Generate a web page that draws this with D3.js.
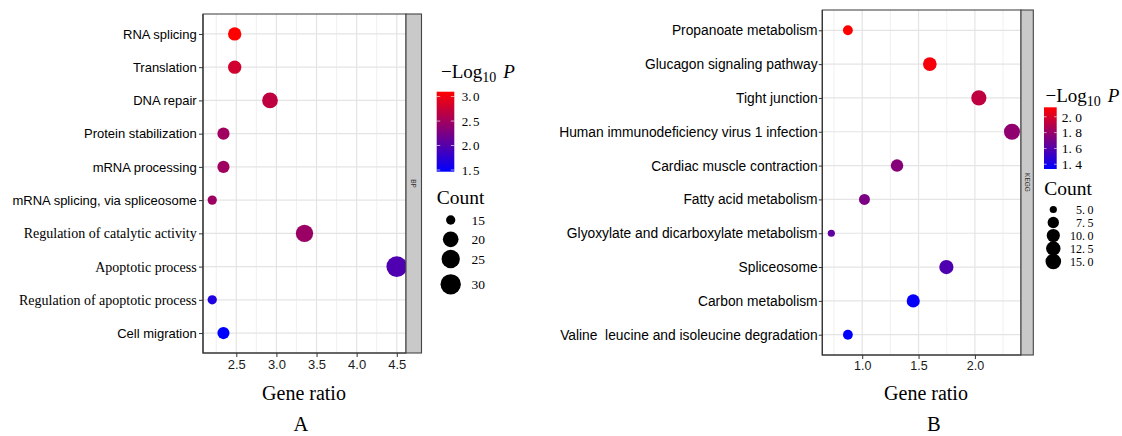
<!DOCTYPE html>
<html>
<head>
<meta charset="utf-8">
<script src="https://cdn.jsdelivr.net/npm/d3@7"></script>
<style>
  html, body { margin: 0; padding: 0; background: #fff; }
  svg { display: block; }
</style>
</head>
<body>
<svg id="chart" width="1122" height="436"></svg>
<script>
// ---- Panel A: GO biological process enrichment ----
const bpTerms = [
  "RNA splicing", "Translation", "DNA repair", "Protein stabilization",
  "mRNA processing", "mRNA splicing, via spliceosome",
  "Regulation of catalytic activity", "Apoptotic process",
  "Regulation of apoptotic process", "Cell migration"
];
const bpRatio = [2.48, 2.48, 2.92, 2.34, 2.34, 2.20, 3.35, 4.50, 2.20, 2.34];
const bpCount = [17, 17, 20, 16, 16, 15, 23, 31, 15, 16];
const bpLogP  = [3.10, 2.80, 2.69, 2.49, 2.49, 2.48, 2.46, 1.97, 1.66, 1.465];
const bpSerifTerms = ["Regulation of catalytic activity", "Apoptotic process", "Regulation of apoptotic process"];
const bpXTicks = [2.5, 3.0, 3.5, 4.0, 4.5];
const bpXMinor = [2.25, 2.75, 3.25, 3.75, 4.25];
const bpColorTicks = [3.0, 2.5, 2.0, 1.5];
const bpSizeBreaks = [15, 20, 25, 30];

// ---- Panel B: KEGG pathway enrichment ----
const keggTerms = [
  "Propanoate metabolism", "Glucagon signaling pathway", "Tight junction",
  "Human immunodeficiency virus 1 infection", "Cardiac muscle contraction",
  "Fatty acid metabolism", "Glyoxylate and dicarboxylate metabolism",
  "Spliceosome", "Carbon metabolism", "Valine  leucine and isoleucine degradation"
];
const keggRatio = [0.873, 1.600, 2.035, 2.329, 1.309, 1.020, 0.726, 1.747, 1.453, 0.873];
const keggCount = [6, 11, 14, 16, 9, 7, 5, 12, 10, 6];
const keggLogP  = [2.12, 2.09, 1.92, 1.78, 1.75, 1.72, 1.63, 1.58, 1.36, 1.34];
const keggXTicks = [1.0, 1.5, 2.0];
const keggXMinor = [0.75, 1.25, 1.75, 2.25];
const keggColorTicks = [2.0, 1.8, 1.6, 1.4];
const keggSizeBreaks = [5.0, 7.5, 10.0, 12.5, 15.0];

const SANS = "'Liberation Sans', Arial, sans-serif";
const SERIF = "'Liberation Serif', 'Times New Roman', serif";

const svg = d3.select("#chart");

const panels = [
  {
    id: "A",
    data: { terms: bpTerms, ratio: bpRatio, count: bpCount, logP: bpLogP,
            serifTerms: bpSerifTerms, xTicks: bpXTicks, xMinor: bpXMinor,
            colorTicks: bpColorTicks, sizeBreaks: bpSizeBreaks, sizeFmt: d3.format("d") },
    layout: {
      left: 203, right: 406, top: 14, bottom: 353, stripW: 15.5, strip: "BP",
      yFont: 13, yTick: 4, yPad: 2.3, xFont: 13,
      xTitleX: 304, letterX: 301,
      rMin: 4.65, rMax: 10.35,
      legTitleX: 441, legTitleY: 78,
      barX: 436.7, barTop: 91.7, barH: 80, barW: 17.6, barLabelX: 461.7, barFont: 13, barGap: 1.5,
      cntTitleX: 436.7, cntTitleY: 204, cntDotX: 450.7,
      cntYs: [220, 239.3, 259, 284.3], cntLabelX: 471.5, cntAnchor: "start", cntFont: 13.5, cntGap: 0
    }
  },
  {
    id: "B",
    data: { terms: keggTerms, ratio: keggRatio, count: keggCount, logP: keggLogP,
            serifTerms: [], xTicks: keggXTicks, xMinor: keggXMinor,
            colorTicks: keggColorTicks, sizeBreaks: keggSizeBreaks, sizeFmt: d3.format(".1f") },
    layout: {
      left: 822.3, right: 1021, top: 10, bottom: 355, stripW: 12.3, strip: "KEGG",
      yFont: 13.8, yTick: 3.5, yPad: 1.2, xFont: 12.5,
      xTitleX: 926, letterX: 933.8,
      rMin: 3.6, rMax: 8.0,
      legTitleX: 1045.5, legTitleY: 101.7,
      barX: 1044, barTop: 107.3, barH: 61.7, barW: 12.7, barLabelX: 1061.7, barFont: 13.5, barGap: 3.5,
      cntTitleX: 1044.3, cntTitleY: 195, cntDotX: 1053.3,
      cntYs: [209.5, 222.5, 235.5, 248.5, 261.5], cntLabelX: 1093.5, cntAnchor: "end", cntFont: 12, cntGap: 2.5
    }
  }
];

function drawPanel(p) {
  const d = p.data, L = p.layout;
  const g = svg.append("g").attr("class", "panel-" + p.id);

  // x domain padded by 5% of the data range on each side
  const [lo, hi] = d3.extent(d.ratio);
  const pad = (hi - lo) * 0.05;
  const x = d3.scaleLinear().domain([lo - pad, hi + pad]).range([L.left, L.right]);
  const y = d3.scalePoint().domain(d.terms).range([L.top, L.bottom]).padding(0.6);
  const color = d3.scaleLinear().domain(d3.extent(d.logP))
    .range(["#0000ff", "#ff0000"]).interpolate(d3.interpolateRgb).clamp(true);
  const [cMin, cMax] = d3.extent(d.count);
  const tSize = d3.scaleLinear().domain([cMin, cMax]).range([0, 1]).clamp(true);
  const radius = v => L.rMin + (L.rMax - L.rMin) * Math.sqrt(tSize(v));

  const clipId = "clip-" + p.id;
  g.append("clipPath").attr("id", clipId)
    .append("rect").attr("x", L.left).attr("y", L.top)
    .attr("width", L.right - L.left).attr("height", L.bottom - L.top);

  // background grid
  const grid = g.append("g");
  grid.selectAll("line.minor").data(d.xMinor.filter(v => x(v) > L.left && x(v) < L.right)).join("line")
    .attr("x1", v => x(v)).attr("x2", v => x(v)).attr("y1", L.top).attr("y2", L.bottom)
    .attr("stroke", "#eeeeee").attr("stroke-width", 0.9);
  grid.selectAll("line.vmajor").data(d.xTicks).join("line")
    .attr("x1", v => x(v)).attr("x2", v => x(v)).attr("y1", L.top).attr("y2", L.bottom)
    .attr("stroke", "#e4e4e4").attr("stroke-width", 1.2);
  grid.selectAll("line.hmajor").data(d.terms).join("line")
    .attr("x1", L.left).attr("x2", L.right).attr("y1", t => y(t)).attr("y2", t => y(t))
    .attr("stroke", "#e4e4e4").attr("stroke-width", 1.2);

  // points
  const rows = d.terms.map((t, i) => ({ term: t, ratio: d.ratio[i], count: d.count[i], logP: d.logP[i] }));
  g.append("g").attr("clip-path", `url(#${clipId})`)
    .selectAll("circle").data(rows).join("circle")
    .attr("cx", r => x(r.ratio)).attr("cy", r => y(r.term))
    .attr("r", r => radius(r.count))
    .attr("fill", r => color(r.logP));

  // panel border
  g.append("rect").attr("x", L.left).attr("y", L.top)
    .attr("width", L.right - L.left).attr("height", L.bottom - L.top)
    .attr("fill", "none").attr("stroke", "#4a4a4a").attr("stroke-width", 1.1);
  g.append("path")
    .attr("d", `M${L.left},${L.top}V${L.bottom}H${L.right}`)
    .attr("fill", "none").attr("stroke", "#333").attr("stroke-width", 1.2);

  // facet strip on the right
  g.append("rect").attr("x", L.right).attr("y", L.top)
    .attr("width", L.stripW).attr("height", L.bottom - L.top)
    .attr("fill", "#c9c9c9").attr("stroke", "#444").attr("stroke-width", 1.1);
  g.append("text")
    .attr("transform", `translate(${L.right + L.stripW / 2},${(L.top + L.bottom) / 2}) rotate(90)`)
    .attr("text-anchor", "middle").attr("dy", "0.35em")
    .attr("font-family", SANS).attr("font-size", 6.5).attr("fill", "#333")
    .text(L.strip);

  // y axis
  const yAxis = g.append("g").attr("transform", `translate(${L.left},0)`)
    .call(d3.axisLeft(y).tickSize(L.yTick).tickPadding(L.yPad));
  yAxis.select(".domain").remove();
  yAxis.selectAll(".tick line").attr("stroke", "#333");
  yAxis.selectAll(".tick text")
    .attr("fill", "#000")
    .attr("font-family", t => d.serifTerms.includes(t) ? SERIF : SANS)
    .attr("font-size", t => d.serifTerms.includes(t) ? L.yFont + 1 : L.yFont)
    .style("white-space", "pre");

  // x axis
  const xAxis = g.append("g").attr("transform", `translate(0,${L.bottom})`)
    .call(d3.axisBottom(x).tickValues(d.xTicks).tickFormat(d3.format(".1f")).tickSize(4).tickPadding(2.5));
  xAxis.select(".domain").remove();
  xAxis.selectAll(".tick line").attr("stroke", "#333");
  xAxis.selectAll(".tick text").attr("fill", "#1a1a1a")
    .attr("font-family", SANS).attr("font-size", L.xFont);

  // axis title and panel letter
  g.append("text").attr("x", L.xTitleX).attr("y", 400).attr("text-anchor", "middle")
    .attr("font-family", SERIF).attr("font-size", 20).attr("fill", "#000").text("Gene ratio");
  g.append("text").attr("x", L.letterX).attr("y", 431).attr("text-anchor", "middle")
    .attr("font-family", SERIF).attr("font-size", 20.5).attr("fill", "#000").text(p.id);

  // colour legend title: −Log10 P
  const tt = g.append("text").attr("x", L.legTitleX).attr("y", L.legTitleY)
    .attr("font-family", SERIF).attr("font-size", 19).attr("fill", "#000");
  tt.append("tspan").text("\u2212Log");
  tt.append("tspan").attr("font-size", 14).attr("dy", 4).text("10");
  tt.append("tspan").attr("dy", -4).attr("dx", 7).attr("font-style", "italic").text("P");

  // colour bar
  const gradId = "grad-" + p.id;
  const cDom = color.domain();
  const grad = g.append("linearGradient").attr("id", gradId)
    .attr("x1", 0).attr("x2", 0).attr("y1", 1).attr("y2", 0);
  grad.selectAll("stop").data(d3.range(0, 1.0001, 0.1)).join("stop")
    .attr("offset", s => s)
    .attr("stop-color", s => color(cDom[0] + s * (cDom[1] - cDom[0])));
  g.append("rect").attr("x", L.barX).attr("y", L.barTop)
    .attr("width", L.barW).attr("height", L.barH).attr("fill", `url(#${gradId})`);
  const cy = d3.scaleLinear().domain(cDom).range([L.barTop + L.barH, L.barTop]);
  const tickLen = L.barW / 5;
  const cb = g.append("g");
  cb.selectAll("line.l").data(d.colorTicks).join("line")
    .attr("x1", L.barX).attr("x2", L.barX + tickLen)
    .attr("y1", v => cy(v)).attr("y2", v => cy(v))
    .attr("stroke", "#fff").attr("stroke-width", 0.8).attr("opacity", 0.8);
  cb.selectAll("line.r").data(d.colorTicks).join("line")
    .attr("x1", L.barX + L.barW - tickLen).attr("x2", L.barX + L.barW)
    .attr("y1", v => cy(v)).attr("y2", v => cy(v))
    .attr("stroke", "#fff").attr("stroke-width", 0.8).attr("opacity", 0.8);
  const fmt1 = d3.format(".1f");
  cb.selectAll("text").data(d.colorTicks).join("text")
    .attr("x", L.barLabelX).attr("y", v => cy(v)).attr("dy", "0.35em")
    .attr("font-family", SERIF).attr("font-size", L.barFont).attr("fill", "#000")
    .each(function (v) {
      const parts = fmt1(v).split(".");
      const t = d3.select(this);
      t.append("tspan").text(parts[0] + ".");
      t.append("tspan").attr("dx", L.barGap).text(parts[1]);
    });

  // size legend
  g.append("text").attr("x", L.cntTitleX).attr("y", L.cntTitleY)
    .attr("font-family", SERIF).attr("font-size", 19.5).attr("fill", "#000").text("Count");
  const keys = g.append("g");
  keys.selectAll("circle").data(d.sizeBreaks).join("circle")
    .attr("cx", L.cntDotX).attr("cy", (v, i) => L.cntYs[i])
    .attr("r", v => radius(v)).attr("fill", "#000");
  keys.selectAll("text").data(d.sizeBreaks).join("text")
    .attr("x", L.cntLabelX).attr("y", (v, i) => L.cntYs[i]).attr("dy", "0.35em")
    .attr("text-anchor", L.cntAnchor)
    .attr("font-family", SERIF).attr("font-size", L.cntFont).attr("fill", "#000")
    .each(function (v) {
      const s = d.sizeFmt(v);
      const t = d3.select(this);
      if (s.includes(".")) {
        const parts = s.split(".");
        t.append("tspan").text(parts[0] + ".");
        t.append("tspan").attr("dx", L.cntGap).text(parts[1]);
      } else {
        t.text(s);
      }
    });
}

panels.forEach(drawPanel);
</script>
</body>
</html>
